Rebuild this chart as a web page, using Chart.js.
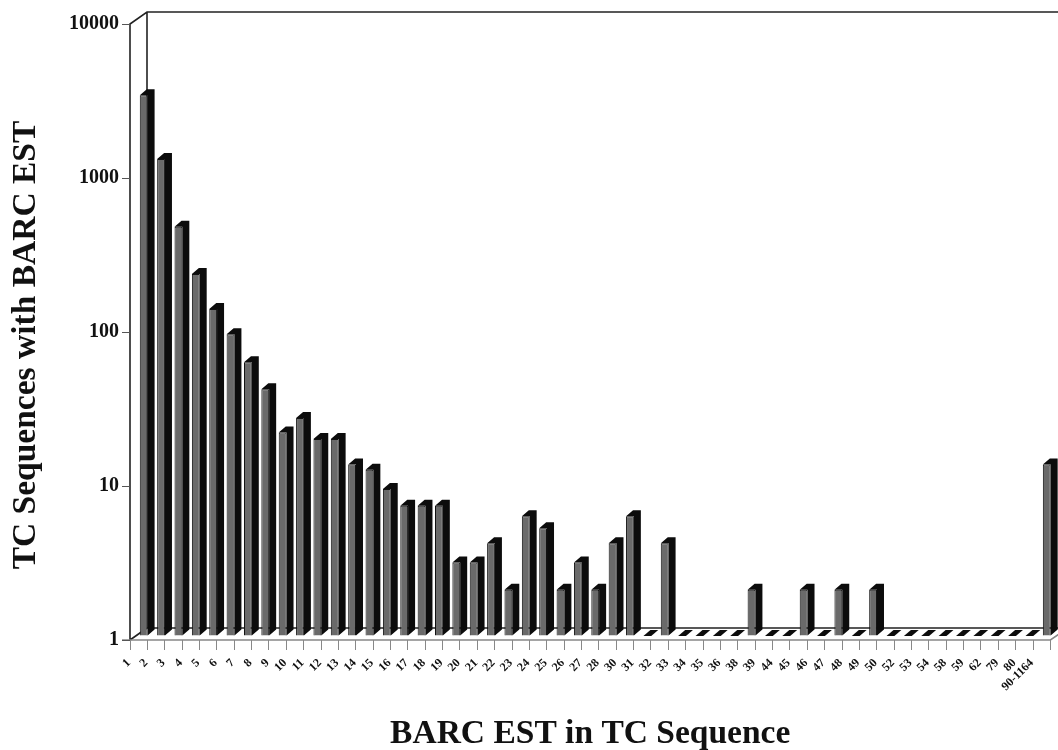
<!DOCTYPE html>
<html>
<head>
<meta charset="utf-8">
<style>
  html, body { margin: 0; padding: 0; background: #fff; overflow: hidden; }
  canvas { display: block; filter: blur(0.5px); }
</style>
<script src="https://cdn.jsdelivr.net/npm/chart.js@4"></script>
</head>
<body>
<canvas id="grafica" width="1058" height="750"></canvas>
<script>
var categorias = ["1","2","3","4","5","6","7","8","9","10","11","12","13","14","15","16","17","18","19","20","21","22","23","24","25","26","27","28","30","31","32","33","34","35","36","38","39","44","45","46","47","48","49","50","52","53","54","58","59","62","79","80","90-1164"];
var secuencias = [3250,1250,455,224,133,91,60,40,21,26,19,19,13,12,9,7,7,7,3,3,4,2,6,5,2,3,2,4,6,1,4,1,1,1,1,2,1,1,2,1,2,1,2,1,1,1,1,1,1,1,1,1,13];
var marcasY = [1,10,100,1000,10000];
var tituloY = "TC Sequences with BARC EST";
var tituloX = "BARC EST in TC Sequence";

// fondo (profundidad) del grafico 3D
var fondoX = 17, fondoY = 12;
// los prismas van a media profundidad
var medioX = 5, medioY = 4;
var ladoX = 7, ladoY = 6;

var prismas = {
  id: "prismas",
  beforeDraw: function (chart) {
    var a = chart.chartArea, c = chart.ctx;
    c.save();
    c.strokeStyle = "#222";
    c.lineWidth = 1.6;
    c.beginPath();
    // pared izquierda y pared del fondo
    c.moveTo(a.left, a.bottom);
    c.lineTo(a.left, a.top);
    c.lineTo(a.left + fondoX, a.top - fondoY);
    c.lineTo(1058, a.top - fondoY);
    c.moveTo(a.left + fondoX, a.top - fondoY);
    c.lineTo(a.left + fondoX, a.bottom - fondoY);
    c.lineTo(a.right + fondoX, a.bottom - fondoY);
    c.moveTo(a.left, a.bottom);
    c.lineTo(a.left + fondoX, a.bottom - fondoY);
    c.stroke();
    c.strokeStyle = "#888";
    c.lineWidth = 1.6;
    c.beginPath();
    c.moveTo(a.left - 8, a.bottom);
    c.lineTo(a.right, a.bottom);
    c.lineTo(a.right + fondoX, a.bottom - fondoY);
    c.stroke();
    c.restore();
  },
  beforeDatasetsDraw: function (chart) {
    var c = chart.ctx;
    c.save();
    c.translate(medioX, -medioY);
    chart.getDatasetMeta(0).data.forEach(function (b) {
      var izq = b.x - b.width / 2, der = b.x + b.width / 2;
      c.fillStyle = "#0c0c0c";
      c.beginPath();
      c.moveTo(der, b.base);
      c.lineTo(der + ladoX, b.base - ladoY);
      c.lineTo(der + ladoX, b.y - ladoY);
      c.lineTo(izq + ladoX, b.y - ladoY);
      c.lineTo(izq, b.y);
      c.lineTo(der, b.y);
      c.closePath();
      c.fill();
    });
  },
  afterDatasetsDraw: function (chart) {
    chart.ctx.restore();
  },
  afterDraw: function (chart) {
    // titulo vertical: va algo mas abajo que el centro del eje
    var c = chart.ctx;
    c.save();
    c.translate(26, 345);
    c.rotate(-Math.PI / 2);
    c.textAlign = "center";
    c.textBaseline = "middle";
    c.fillStyle = "#111";
    c.font = "bold 33.5px 'Liberation Serif'";
    c.fillText(tituloY, 0, 0);
    c.restore();
  }
};

new Chart(document.getElementById("grafica"), {
  type: "bar",
  data: {
    labels: categorias,
    datasets: [{
      data: secuencias,
      base: 1,
      backgroundColor: "#6a6a6a",
      borderColor: "#111",
      borderWidth: 1,
      barPercentage: 1,
      categoryPercentage: 0.45
    }]
  },
  plugins: [prismas],
  options: {
    responsive: false,
    animation: false,
    layout: { padding: { left: 0, right: 7.5, top: 24, bottom: 0 } },
    plugins: { legend: { display: false }, tooltip: { enabled: false } },
    scales: {
      x: {
        offset: true,
        border: { display: false },
        grid: { display: true, drawOnChartArea: false, tickLength: 10, color: "#888", offset: true },
        afterFit: function (eje) { eje.height = 110; },
        ticks: {
          autoSkip: false,
          maxRotation: 45,
          minRotation: 45,
          labelOffset: -10,
          padding: 6,
          color: "#111",
          font: { family: "Liberation Serif", weight: "bold", size: 12 }
        },
        title: {
          display: true,
          text: tituloX,
          color: "#111",
          padding: { top: 0, bottom: -4 },
          font: { family: "Liberation Serif", weight: "bold", size: 33.5 }
        }
      },
      y: {
        type: "logarithmic",
        min: 1,
        max: 10000,
        border: { display: false },
        grid: { display: true, drawOnChartArea: false, tickLength: 8, color: "#555" },
        afterFit: function (eje) { eje.width = 130; },
        afterBuildTicks: function (eje) {
          eje.ticks = marcasY.map(function (v) { return { value: v }; });
        },
        ticks: {
          padding: 3,
          color: "#111",
          font: { family: "Liberation Serif", weight: "bold", size: 20 },
          callback: function (v) { return String(v); }
        }
      }
    }
  }
});
</script>
</body>
</html>
